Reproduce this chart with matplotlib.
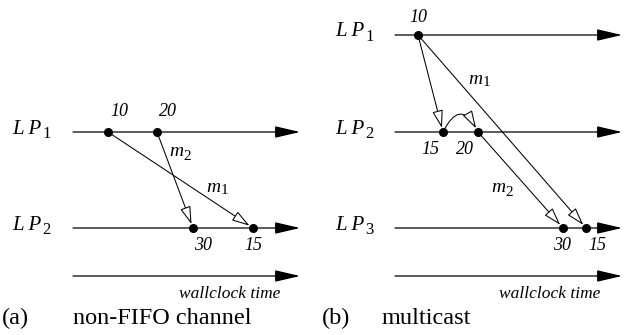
import matplotlib.pyplot as plt

plt.rcParams['font.family'] = ['Liberation Serif', 'DejaVu Serif']
plt.rcParams['mathtext.fontset'] = 'custom'
plt.rcParams['mathtext.rm'] = 'Liberation Serif'
plt.rcParams['mathtext.it'] = 'Liberation Serif:italic'

# timeline rows (pixel layout, y grows downward)
lp_y = [35, 132, 228]
clock_y = 276
a_x0, a_x1 = 73, 300
b_x0, b_x1 = 395, 622

# (a) non-FIFO channel: events on LP1 and LP2
a_send_x = [108, 157]
a_send_ts = ['10', '20']
a_recv_x = [193, 253]
a_recv_ts = ['30', '15']

# (b) multicast: events on LP1, LP2, LP3
b_lp1_x = [418]
b_lp1_ts = ['10']
b_lp2_x = [443, 478]
b_lp2_ts = ['15', '20']
b_lp3_x = [563, 586]
b_lp3_ts = ['30', '15']

fig = plt.figure(figsize=(6.31, 3.35), dpi=100)
ax = fig.add_axes([0, 0, 1, 1])
ax.set_xlim(0, 631)
ax.set_ylim(335, 0)
ax.axis('off')


def timeline(x0, x1, y):
    ax.annotate('', xy=(x1, y), xytext=(x0, y),
                arrowprops=dict(arrowstyle='-|>,head_length=1.55,head_width=0.36',
                                mutation_scale=10, lw=0.9, color='black',
                                shrinkA=0, shrinkB=0))


def message(xs, ys, xr, yr, rad=0.0):
    ax.annotate('', xy=(xr, yr), xytext=(xs, ys),
                arrowprops=dict(arrowstyle='-|>,head_length=1.1,head_width=0.33',
                                mutation_scale=10, lw=0.75, fc='white', ec='black',
                                shrinkA=0, shrinkB=3,
                                connectionstyle='arc3,rad=%s' % rad))


def dots(xs, y):
    ax.plot(xs, [y] * len(xs), 'o', color='black', ms=5.5, zorder=5)


def ts(x, y, s):
    ax.text(x, y, s, style='italic', fontsize=13, ha='center', va='center')


def lp(x, y, n):
    ax.text(x, y, 'L P', style='italic', fontsize=15, ha='left', va='center')
    ax.text(x + 30, y + 5, str(n), fontsize=12, ha='left', va='center')


def msg_label(x, y, n):
    ax.text(x - 3, y, r'$m$', fontsize=14, ha='center', va='center')
    ax.text(x + 7, y + 4, str(n), fontsize=11, ha='center', va='center')


# ---- (a) ----
timeline(a_x0, a_x1, lp_y[1])
timeline(a_x0, a_x1, lp_y[2])
timeline(a_x0, a_x1, clock_y)
lp(12, lp_y[1] - 3, 1)
lp(12, lp_y[2] - 3, 2)
message(a_send_x[0], lp_y[1], a_recv_x[1], lp_y[2])
message(a_send_x[1], lp_y[1], a_recv_x[0], lp_y[2])
dots(a_send_x, lp_y[1])
dots(a_recv_x, lp_y[2])
for x, s in zip(a_send_x, a_send_ts):
    ts(x + 11, lp_y[1] - 20, s)
for x, s in zip(a_recv_x, a_recv_ts):
    ts(x + 10 if s == '30' else x, lp_y[2] + 18, s)
msg_label(180, 152, 2)
msg_label(217, 187, 1)
ax.text(280, 294, 'wallclock time', style='italic', fontsize=12.5, ha='right', va='center')
ax.text(2, 318, '(a)', fontsize=17.5, ha='left', va='center')
ax.text(73, 318, 'non-FIFO channel', fontsize=17.5, ha='left', va='center')

# ---- (b) ----
for y in lp_y:
    timeline(b_x0, b_x1, y)
timeline(b_x0, b_x1, clock_y)
for i, y in enumerate(lp_y):
    lp(335, y - 3, i + 1)
message(b_lp1_x[0], lp_y[0], b_lp2_x[0], lp_y[1])
message(b_lp1_x[0], lp_y[0], b_lp3_x[1], lp_y[2])
message(b_lp2_x[1], lp_y[1], b_lp3_x[0], lp_y[2])
message(b_lp2_x[0], lp_y[1], b_lp2_x[1], lp_y[1], rad=-1.0)
dots(b_lp1_x, lp_y[0])
dots(b_lp2_x, lp_y[1])
dots(b_lp3_x, lp_y[2])
ts(b_lp1_x[0], lp_y[0] - 18, b_lp1_ts[0])
for x, s in zip(b_lp2_x, b_lp2_ts):
    ts(x - 13, lp_y[1] + 17, s)
ts(b_lp3_x[0] - 1, lp_y[2] + 17, b_lp3_ts[0])
ts(b_lp3_x[1] + 11, lp_y[2] + 17, b_lp3_ts[1])
msg_label(479, 79, 1)
msg_label(502, 188, 2)
ax.text(600, 294, 'wallclock time', style='italic', fontsize=12.5, ha='right', va='center')
ax.text(322, 318, '(b)', fontsize=17.5, ha='left', va='center')
ax.text(382, 318, 'multicast', fontsize=17.5, ha='left', va='center')

fig.savefig('out.png', dpi=100)
